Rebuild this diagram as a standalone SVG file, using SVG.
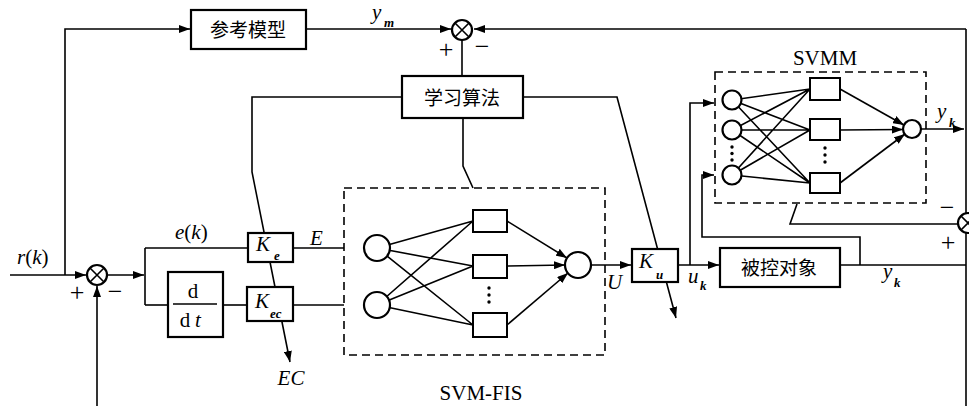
<svg xmlns="http://www.w3.org/2000/svg" width="969" height="406" viewBox="0 0 969 406">
<defs>
<marker id="arr" markerUnits="userSpaceOnUse" markerWidth="11" markerHeight="8" refX="11" refY="4" orient="auto">
<path d="M0,0 L11,4 L0,8 z" fill="#000"/>
</marker>
<style>
.ln{fill:none;stroke:#000;stroke-width:1.6}
.box{fill:#fff;stroke:#000;stroke-width:2.2}
.sbox{fill:#fff;stroke:#000;stroke-width:2}
.cir{fill:#fff;stroke:#000;stroke-width:2.2}
.dash{fill:none;stroke:#000;stroke-width:1.6;stroke-dasharray:8 5}
.cjk{font-family:"Noto Sans CJK SC","Noto Sans CJK TC",sans-serif;font-size:19px;text-anchor:middle;fill:#000}
.it{font-family:"Liberation Serif",serif;font-style:italic;font-size:21px;fill:#000}
.rm{font-family:"Liberation Serif",serif;font-size:21px;fill:#000}
.sub{font-family:"Liberation Serif",serif;font-style:italic;font-weight:bold;font-size:13px;fill:#000}
.sign{font-family:"Liberation Serif",serif;font-size:26px;text-anchor:middle;fill:#000}
.dot{fill:#000}
</style>
</defs>
<rect width="969" height="406" fill="#fff"/>

<g id="connectors">
<!-- r(k) input and reference path -->
<path class="ln" d="M10,275 L86,275" marker-end="url(#arr)"/>
<path class="ln" d="M65,275 L65,29 L190,29" marker-end="url(#arr)"/>
<path class="ln" d="M306,29 L451,29" marker-end="url(#arr)"/>
<!-- right feedback into top sum -->
<path class="ln" d="M966,29 L474,29" marker-end="url(#arr)"/>
<path class="ln" d="M966,29 L966,213"/>
<path class="ln" d="M966,233 L966,406"/>
<!-- top sum to learning algorithm -->
<path class="ln" d="M462,40 L462,76"/>
<path class="ln" d="M463,118 L463,166 L473,188"/>
<!-- learning algorithm outputs -->
<path class="ln" d="M402,97 L252,97 L252,172 L290,362" marker-end="url(#arr)"/>
<path class="ln" d="M523,97 L617,97 L676,318" marker-end="url(#arr)"/>
<!-- main sum feedback -->
<path class="ln" d="M97,406 L97,286" marker-end="url(#arr)"/>
<!-- main sum output -->
<path class="ln" d="M107,275 L144,275" marker-end="url(#arr)"/>
<path class="ln" d="M145,248 L145,305"/>
<path class="ln" d="M145,248 L248,248"/>
<path class="ln" d="M145,305 L168,305"/>
<path class="ln" d="M223,305 L247,305"/>
<path class="ln" d="M293,248 L344,248"/>
<path class="ln" d="M293,305 L344,305"/>
<!-- SVM-FIS internal -->
<path class="ln" d="M377,248 L473,221 M377,248 L473,266 M377,248 L473,325 M377,305 L473,221 M377,305 L473,266 M377,305 L473,325"/>
<path class="ln" d="M507,221 L567,258" marker-end="url(#arr)"/>
<path class="ln" d="M507,266 L565,265" marker-end="url(#arr)"/>
<path class="ln" d="M507,325 L568,273" marker-end="url(#arr)"/>
<!-- FIS output to Ku and plant -->
<path class="ln" d="M591,265 L631,265" marker-end="url(#arr)"/>
<path class="ln" d="M678,265 L719,265" marker-end="url(#arr)"/>
<!-- SVMM inputs -->
<path class="ln" d="M690,265 L690,103 L714,103" marker-end="url(#arr)"/>
<path class="ln" d="M860,265 L860,237 L702,237 L702,175 L714,175" marker-end="url(#arr)"/>
<!-- plant output -->
<path class="ln" d="M840,265 L966,265"/>
<!-- SVMM internal -->
<path class="ln" d="M732,100 L810,89 M732,100 L810,130 M732,100 L810,183 M732,130 L810,89 M732,130 L810,130 M732,130 L810,183 M732,175 L810,89 M732,175 L810,130 M732,175 L810,183"/>
<path class="ln" d="M840,89 L904,125" marker-end="url(#arr)"/>
<path class="ln" d="M840,130 L903,129.5" marker-end="url(#arr)"/>
<path class="ln" d="M840,183 L905,134" marker-end="url(#arr)"/>
<path class="ln" d="M921,129 L964,129" marker-end="url(#arr)"/>
<!-- error to SVMM -->
<path class="ln" d="M958,224 L790,224 L797,204"/>
</g>

<g id="sum-top">
<circle class="cir" cx="462" cy="30" r="10"/>
<path class="ln" d="M455,23 L469,37 M469,23 L455,37"/>
<text class="sign" x="446" y="58">+</text>
<text class="sign" x="482" y="55">−</text>
</g>

<g id="sum-main">
<circle class="cir" cx="97" cy="275" r="10"/>
<path class="ln" d="M90,268 L104,282 M104,268 L90,282"/>
<text class="sign" x="77" y="301">+</text>
<text class="sign" x="115" y="300">−</text>
</g>

<g id="sum-right">
<circle class="cir" cx="968" cy="223" r="10"/>
<path class="ln" d="M961,216 L975,230 M975,216 L961,230"/>
<text class="sign" x="947" y="216">−</text>
<text class="sign" x="948" y="251">+</text>
</g>

<g id="ref-model">
<rect class="box" x="191" y="10" width="115" height="39"/>
<text class="cjk" x="248" y="37">参考模型</text>
</g>

<g id="learning">
<rect class="box" x="402" y="76" width="121" height="42"/>
<text class="cjk" x="462" y="105">学习算法</text>
</g>

<g id="ddt">
<rect class="box" x="168" y="272" width="55" height="65"/>
<text class="rm" x="193" y="298" text-anchor="middle" font-size="19">d</text>
<path class="ln" d="M173,304 L217,304" stroke-width="1.2"/>
<text class="rm" x="185" y="327" text-anchor="middle" font-size="19">d</text>
<text class="it" x="198" y="327" text-anchor="middle" font-size="19">t</text>
</g>

<g id="Ke">
<rect class="box" x="248" y="233" width="45" height="29"/>
<text class="it" x="256" y="251" font-size="22">K</text>
<text class="sub" x="274" y="260">e</text>
</g>

<g id="Kec">
<rect class="box" x="247" y="287" width="46" height="34"/>
<text class="it" x="255" y="308" font-size="22">K</text>
<text class="sub" x="270" y="318">ec</text>
</g>

<g id="Ku">
<rect class="box" x="632" y="249" width="46" height="33"/>
<text class="it" x="639" y="268" font-size="22">K</text>
<text class="sub" x="656" y="279">u</text>
</g>

<g id="plant">
<rect class="box" x="720" y="248" width="120" height="39"/>
<text class="cjk" x="779" y="275">被控对象</text>
</g>

<g id="svm-fis">
<rect class="dash" x="344" y="188" width="261" height="167"/>
<circle class="cir" cx="377" cy="248" r="13"/>
<circle class="cir" cx="377" cy="305" r="13"/>
<rect class="sbox" x="473" y="210" width="34" height="22"/>
<rect class="sbox" x="473" y="255" width="34" height="23"/>
<rect class="sbox" x="473" y="313" width="34" height="24"/>
<circle class="dot" cx="489" cy="288" r="1.7"/>
<circle class="dot" cx="489" cy="295" r="1.7"/>
<circle class="dot" cx="489" cy="302" r="1.7"/>
<circle class="cir" cx="578" cy="265" r="13"/>
<text class="rm" x="481" y="400" text-anchor="middle" font-size="23">SVM-FIS</text>
</g>

<g id="svmm">
<rect class="dash" x="715" y="72" width="211" height="131"/>
<circle class="cir" cx="732" cy="100" r="9.5"/>
<circle class="cir" cx="732" cy="130" r="9.5"/>
<circle class="cir" cx="732" cy="175" r="9.5"/>
<circle class="dot" cx="732" cy="147" r="1.7"/>
<circle class="dot" cx="732" cy="153.5" r="1.7"/>
<circle class="dot" cx="732" cy="160" r="1.7"/>
<rect class="sbox" x="810" y="78" width="30" height="22"/>
<rect class="sbox" x="810" y="119" width="30" height="21"/>
<rect class="sbox" x="810" y="173" width="30" height="20"/>
<circle class="dot" cx="825" cy="148" r="1.7"/>
<circle class="dot" cx="825" cy="155" r="1.7"/>
<circle class="dot" cx="825" cy="162" r="1.7"/>
<circle class="cir" cx="912" cy="129" r="9"/>
<text class="rm" x="825" y="65" text-anchor="middle" font-size="24">SVMM</text>
</g>

<g id="labels">
<text class="it" x="372" y="19" font-size="21">y</text>
<text class="sub" x="384" y="27">m</text>
<text class="it" x="17" y="264"><tspan>r</tspan><tspan font-style="normal">(</tspan><tspan>k</tspan><tspan font-style="normal">)</tspan></text>
<text class="it" x="175" y="239"><tspan>e</tspan><tspan font-style="normal">(</tspan><tspan>k</tspan><tspan font-style="normal">)</tspan></text>
<text class="it" x="310" y="245">E</text>
<text class="it" x="291" y="385" text-anchor="middle" font-size="22">EC</text>
<text class="it" x="607" y="289" font-size="22">U</text>
<text class="it" x="688" y="283">u</text>
<text class="sub" x="700" y="290">k</text>
<text class="it" x="883" y="278">y</text>
<text class="sub" x="894" y="287">k</text>
<text class="it" x="937" y="118">y</text>
<text class="sub" x="949" y="127">k</text>
</g>
</svg>
